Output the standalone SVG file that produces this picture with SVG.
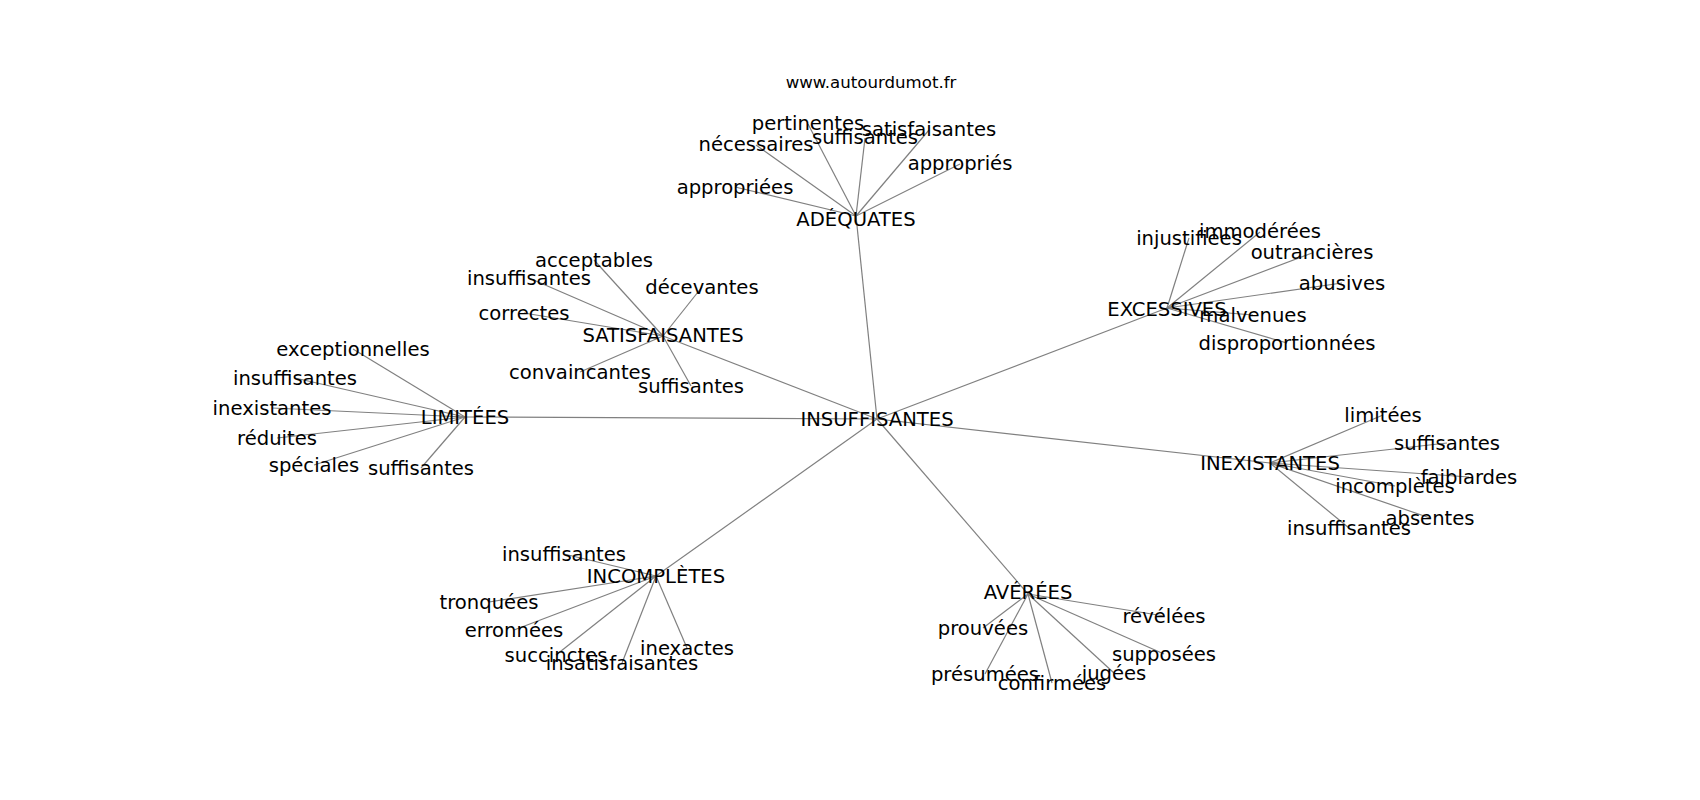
<svg xmlns="http://www.w3.org/2000/svg" width="1700" height="800" viewBox="0 0 1700 800">
<style>
text{font-family:"DejaVu Sans",sans-serif;font-size:19.6px;fill:#000;text-anchor:middle}
.t{font-size:16.6px}
line{stroke:#808080;stroke-width:1.2}
</style>
<rect width="1700" height="800" fill="#fff"/>
<g id="connectors">
<line x1="877" y1="419" x2="856" y2="216"/>
<line x1="877" y1="419" x2="1167" y2="308"/>
<line x1="877" y1="419" x2="663" y2="336"/>
<line x1="877" y1="419" x2="465" y2="417"/>
<line x1="877" y1="419" x2="1270" y2="463"/>
<line x1="877" y1="419" x2="656" y2="576"/>
<line x1="877" y1="419" x2="1028" y2="594"/>
<line x1="856" y1="216" x2="808" y2="124"/>
<line x1="856" y1="216" x2="756" y2="145"/>
<line x1="856" y1="216" x2="865" y2="138"/>
<line x1="856" y1="216" x2="929" y2="130"/>
<line x1="856" y1="216" x2="960" y2="164"/>
<line x1="856" y1="216" x2="735" y2="187"/>
<line x1="1167" y1="308" x2="1189" y2="238"/>
<line x1="1167" y1="308" x2="1260" y2="232"/>
<line x1="1167" y1="308" x2="1312" y2="253"/>
<line x1="1167" y1="308" x2="1342" y2="283"/>
<line x1="1167" y1="308" x2="1253" y2="315"/>
<line x1="1167" y1="308" x2="1287" y2="343"/>
<line x1="663" y1="336" x2="594" y2="260"/>
<line x1="663" y1="336" x2="529" y2="278"/>
<line x1="663" y1="336" x2="702" y2="287"/>
<line x1="663" y1="336" x2="524" y2="313"/>
<line x1="663" y1="336" x2="580" y2="372"/>
<line x1="663" y1="336" x2="691" y2="386"/>
<line x1="465" y1="417" x2="353" y2="349"/>
<line x1="465" y1="417" x2="295" y2="378"/>
<line x1="465" y1="417" x2="272" y2="408"/>
<line x1="465" y1="417" x2="277" y2="438"/>
<line x1="465" y1="417" x2="314" y2="465"/>
<line x1="465" y1="417" x2="421" y2="468"/>
<line x1="1270" y1="463" x2="1383" y2="415"/>
<line x1="1270" y1="463" x2="1447" y2="443"/>
<line x1="1270" y1="463" x2="1469" y2="477"/>
<line x1="1270" y1="463" x2="1395" y2="486"/>
<line x1="1270" y1="463" x2="1430" y2="518"/>
<line x1="1270" y1="463" x2="1349" y2="528"/>
<line x1="656" y1="576" x2="564" y2="554"/>
<line x1="656" y1="576" x2="489" y2="602"/>
<line x1="656" y1="576" x2="514" y2="630"/>
<line x1="656" y1="576" x2="556" y2="655"/>
<line x1="656" y1="576" x2="622" y2="663"/>
<line x1="656" y1="576" x2="687" y2="648"/>
<line x1="1028" y1="594" x2="1164" y2="616"/>
<line x1="1028" y1="594" x2="983" y2="628"/>
<line x1="1028" y1="594" x2="1164" y2="654"/>
<line x1="1028" y1="594" x2="985" y2="674"/>
<line x1="1028" y1="594" x2="1052" y2="683"/>
<line x1="1028" y1="594" x2="1114" y2="673"/>
</g>
<text class="t" x="871" y="88">www.autourdumot.fr</text>
<g id="n-insuffisantes"><text x="877" y="426">INSUFFISANTES</text></g>
<g id="n-adequates"><text x="856" y="226">ADÉQUATES</text></g>
<g id="n-adequates-pertinentes"><text x="808" y="130">pertinentes</text></g>
<g id="n-adequates-necessaires"><text x="756" y="151">nécessaires</text></g>
<g id="n-adequates-suffisantes"><text x="865" y="144">suffisantes</text></g>
<g id="n-adequates-satisfaisantes"><text x="929" y="136">satisfaisantes</text></g>
<g id="n-adequates-appropries"><text x="960" y="170">appropriés</text></g>
<g id="n-adequates-appropriees"><text x="735" y="194">appropriées</text></g>
<g id="n-excessives"><text x="1167" y="316">EXCESSIVES</text></g>
<g id="n-excessives-injustifiees"><text x="1189" y="245">injustifiées</text></g>
<g id="n-excessives-immoderees"><text x="1260" y="238">immodérées</text></g>
<g id="n-excessives-outrancieres"><text x="1312" y="259">outrancières</text></g>
<g id="n-excessives-abusives"><text x="1342" y="290">abusives</text></g>
<g id="n-excessives-malvenues"><text x="1253" y="322">malvenues</text></g>
<g id="n-excessives-disproportionnees"><text x="1287" y="350">disproportionnées</text></g>
<g id="n-satisfaisantes"><text x="663" y="342">SATISFAISANTES</text></g>
<g id="n-satisfaisantes-acceptables"><text x="594" y="267">acceptables</text></g>
<g id="n-satisfaisantes-insuffisantes"><text x="529" y="285">insuffisantes</text></g>
<g id="n-satisfaisantes-decevantes"><text x="702" y="294">décevantes</text></g>
<g id="n-satisfaisantes-correctes"><text x="524" y="320">correctes</text></g>
<g id="n-satisfaisantes-convaincantes"><text x="580" y="379">convaincantes</text></g>
<g id="n-satisfaisantes-suffisantes"><text x="691" y="393">suffisantes</text></g>
<g id="n-limitees"><text x="465" y="424">LIMITÉES</text></g>
<g id="n-limitees-exceptionnelles"><text x="353" y="356">exceptionnelles</text></g>
<g id="n-limitees-insuffisantes"><text x="295" y="385">insuffisantes</text></g>
<g id="n-limitees-inexistantes"><text x="272" y="415">inexistantes</text></g>
<g id="n-limitees-reduites"><text x="277" y="445">réduites</text></g>
<g id="n-limitees-speciales"><text x="314" y="472">spéciales</text></g>
<g id="n-limitees-suffisantes"><text x="421" y="475">suffisantes</text></g>
<g id="n-inexistantes"><text x="1270" y="470">INEXISTANTES</text></g>
<g id="n-inexistantes-limitees"><text x="1383" y="422">limitées</text></g>
<g id="n-inexistantes-suffisantes"><text x="1447" y="450">suffisantes</text></g>
<g id="n-inexistantes-faiblardes"><text x="1469" y="484">faiblardes</text></g>
<g id="n-inexistantes-incompletes"><text x="1395" y="493">incomplètes</text></g>
<g id="n-inexistantes-absentes"><text x="1430" y="525">absentes</text></g>
<g id="n-inexistantes-insuffisantes"><text x="1349" y="535">insuffisantes</text></g>
<g id="n-incompletes"><text x="656" y="583">INCOMPLÈTES</text></g>
<g id="n-incompletes-insuffisantes"><text x="564" y="561">insuffisantes</text></g>
<g id="n-incompletes-tronquees"><text x="489" y="609">tronquées</text></g>
<g id="n-incompletes-erronnees"><text x="514" y="637">erronnées</text></g>
<g id="n-incompletes-succinctes"><text x="556" y="662">succinctes</text></g>
<g id="n-incompletes-insatisfaisantes"><text x="622" y="670">insatisfaisantes</text></g>
<g id="n-incompletes-inexactes"><text x="687" y="655">inexactes</text></g>
<g id="n-averees"><text x="1028" y="599">AVÉRÉES</text></g>
<g id="n-averees-revelees"><text x="1164" y="623">révélées</text></g>
<g id="n-averees-prouvees"><text x="983" y="635">prouvées</text></g>
<g id="n-averees-supposees"><text x="1164" y="661">supposées</text></g>
<g id="n-averees-presumees"><text x="985" y="681">présumées</text></g>
<g id="n-averees-confirmees"><text x="1052" y="690">confirmées</text></g>
<g id="n-averees-jugees"><text x="1114" y="680">jugées</text></g>
</svg>
